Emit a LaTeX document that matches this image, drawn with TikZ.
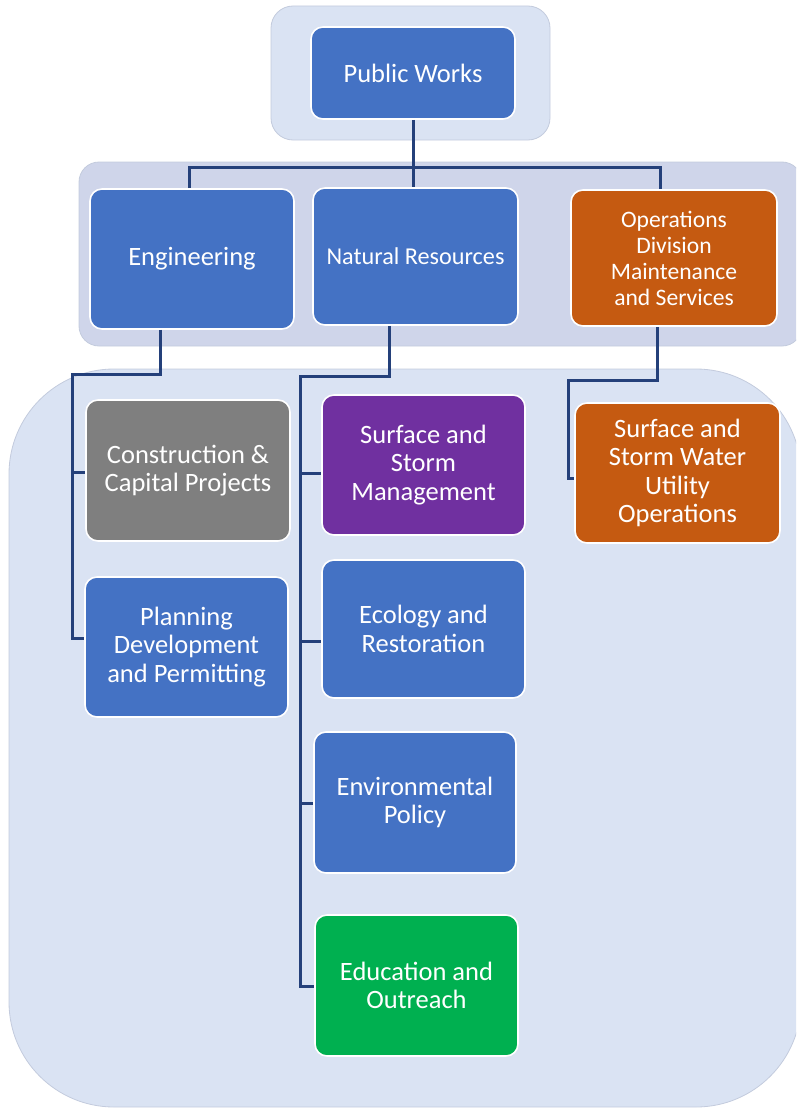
\documentclass[tikz,border=0pt]{standalone}
\usepackage{fontspec}
\setmainfont{Carlito}
\definecolor{panelblue}{HTML}{DAE3F3}
\definecolor{panelmid}{HTML}{CFD5EA}
\definecolor{paneledge}{HTML}{C3CBDD}
\definecolor{unitblue}{HTML}{4472C4}
\definecolor{unitorange}{HTML}{C55A11}
\definecolor{unitgray}{HTML}{7F7F7F}
\definecolor{unitpurple}{HTML}{7030A0}
\definecolor{unitgreen}{HTML}{00B050}
\definecolor{linkblue}{HTML}{24407A}
\begin{document}
\begin{tikzpicture}[x=1pt,y=-1pt,
  panel/.style={fill=panelblue, draw=paneledge, line width=0.8pt},
  unit/.style={rectangle, rounded corners=12pt, draw=white, line width=1.6pt,
    text=white, align=center, inner sep=4pt,
    font=\fontsize{26.5}{28.5}\selectfont},
  link/.style={draw=linkblue, line width=3pt}]
\useasboundingbox (0,0) rectangle (796,1108);

% background panels for the three levels
\begin{scope}
  \clip (0,0) rectangle (796,1108);
  \path[panel, rounded corners=22pt] (271,6) rectangle (550,140);
  \path[panel, fill=panelmid, rounded corners=20pt] (79,162) rectangle (802,346);
  \path[panel, rounded corners=105pt] (9,369) rectangle (801,1107);
\end{scope}

% units
\node[unit, fill=unitblue, minimum width=204pt, minimum height=92pt] (pw) at (413,73) {Public Works};
\node[unit, fill=unitblue, minimum width=204pt, minimum height=140pt] (eng) at (192,259) {Engineering};
\node[unit, fill=unitblue, minimum width=205pt, minimum height=137pt, font=\fontsize{24.2}{28}\selectfont] (nr) at (415.5,256.5) {Natural Resources};
\node[unit, fill=unitorange, minimum width=206pt, minimum height=136pt, font=\fontsize{23.6}{26}\selectfont] (ops) at (674,258) {Operations\\Division\\Maintenance\\and Services};

\node[unit, fill=unitgray, minimum width=204pt, minimum height=141pt] (ccp) at (188,470.5) {Construction \&\\Capital Projects};
\node[unit, fill=unitblue, minimum width=203pt, minimum height=140pt] (pdp) at (186.5,647) {Planning\\Development\\and Permitting};

\node[unit, fill=unitpurple, minimum width=203pt, minimum height=140pt] (ssm) at (423.5,465) {Surface and\\Storm\\Management};
\node[unit, fill=unitblue, minimum width=203pt, minimum height=138pt] (eco) at (423.5,629) {Ecology and\\Restoration};
\node[unit, fill=unitblue, minimum width=202pt, minimum height=141pt] (env) at (415,802.5) {Environmental\\Policy};
\node[unit, fill=unitgreen, minimum width=203pt, minimum height=141pt] (edu) at (416.5,985.5) {Education and\\Outreach};

\node[unit, fill=unitorange, minimum width=205pt, minimum height=140pt] (swo) at (677.5,473) {Surface and\\Storm Water\\Utility\\Operations};

% top-level bus
\coordinate (busL) at (189,167);
\coordinate (busR) at (660,167);
\draw[link] (pw.south) -- (pw.south |- nr.north);
\draw[link] (eng.north -| busL) -- (busL) -- (busR) -- (ops.north -| busR);

% Engineering branch
\coordinate (e1) at (160,374);
\coordinate (e2) at (72,374);
\coordinate (e3) at (72,638);
\draw[link] (eng.south -| e1) -- (e1) -- (e2) -- (e3) -- (e3 -| pdp.west);
\coordinate (e4) at (72,472);
\draw[link] (e4) -- (e4 -| ccp.west);

% Natural Resources branch
\coordinate (n1) at (389,376);
\coordinate (n2) at (300,376);
\coordinate (n3) at (300,986);
\draw[link] (nr.south -| n1) -- (n1) -- (n2) -- (n3) -- (n3 -| edu.west);
\coordinate (n4) at (300,473);
\coordinate (n5) at (300,641);
\coordinate (n6) at (300,803);
\draw[link] (n4) -- (n4 -| ssm.west);
\draw[link] (n5) -- (n5 -| eco.west);
\draw[link] (n6) -- (n6 -| env.west);

% Operations branch
\coordinate (o1) at (657,380);
\coordinate (o2) at (568,380);
\coordinate (o3) at (568,478);
\draw[link] (ops.south -| o1) -- (o1) -- (o2) -- (o3) -- (o3 -| swo.west);
\end{tikzpicture}
\end{document}
